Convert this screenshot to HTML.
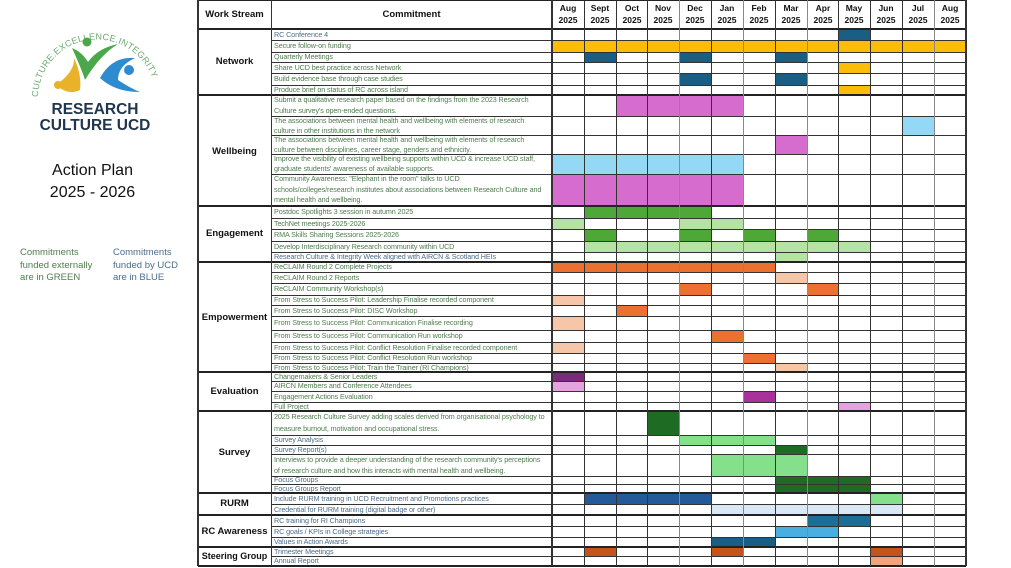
<!DOCTYPE html>
<html><head><meta charset="utf-8"><style>
*{margin:0;padding:0;box-sizing:border-box}
body{width:1011px;height:568px;background:#fff;position:relative;overflow:hidden;font-family:"Liberation Sans",sans-serif}
.r{position:absolute;left:274px;width:278px;font-size:7.2px;white-space:nowrap;overflow:hidden;color:#4f7d4f;letter-spacing:-0.1px}
.b{color:#4c6c8c}
.bar{position:absolute}
.h{position:absolute;left:271px;width:695px;height:1px;background:#333}
.g{position:absolute;left:198px;width:768px;height:2px;background:#222}
.v{position:absolute;top:0;height:566px;width:1px;background:#333}
.vg{background:#888}
.ws{position:absolute;left:198px;width:73px;text-align:center;font-weight:bold;font-size:9.5px;color:#111}
.m{position:absolute;top:2px;width:32px;text-align:center;font-weight:bold;font-size:8.5px;line-height:12px;color:#111}
</style></head><body>

<!-- left panel -->
<svg style="position:absolute;left:0;top:0" width="198" height="140">
<defs><path id="arc" d="M38,97 A58,58 0 1,1 156,100"/></defs>
<text font-family="Liberation Sans" font-size="9" fill="#6aaa70" letter-spacing="0.3"><textPath href="#arc">CULTURE.EXCELLENCE.INTEGRITY</textPath></text>
<path d="M60,82 Q75,70 74,58 Q82,75 80,90 Q70,95 60,88Z" fill="#e8b22a"/>
<circle cx="58" cy="85" r="4" fill="#e8b22a"/>
<path d="M72,48 Q82,70 85,80 Q100,55 118,44 Q98,48 88,62 Q82,52 72,48Z" fill="#4aa84a"/>
<circle cx="87" cy="42" r="4.5" fill="#4aa84a"/>
<path d="M100,78 Q112,56 135,58 Q118,66 118,80 Q130,88 140,92 Q115,92 100,78Z" fill="#2e8bd0"/>
<circle cx="129" cy="70" r="5" fill="#2e8bd0"/>
<text x="95" y="114" text-anchor="middle" font-family="Liberation Sans" font-weight="bold" font-size="15.5" fill="#20364f">RESEARCH</text>
<text x="95" y="130" text-anchor="middle" font-family="Liberation Sans" font-weight="bold" font-size="15.5" fill="#20364f">CULTURE UCD</text>
</svg>
<div style="position:absolute;left:0;width:185px;top:160px;text-align:center;font-size:16px;line-height:22px;color:#111">Action Plan<br>2025 - 2026</div>
<div style="position:absolute;left:20px;top:247px;font-size:9.5px;line-height:12.7px;color:#4f7d4f">Commitments<br>funded externally<br>are in GREEN</div>
<div style="position:absolute;left:113px;top:247px;font-size:9.5px;line-height:12.7px;color:#4c6c8c">Commitments<br>funded by UCD<br>are in BLUE</div>

<!-- header -->
<div class="ws" style="top:9px;font-size:9.5px">Work Stream</div>
<div style="position:absolute;left:271px;width:281px;top:9px;text-align:center;font-weight:bold;font-size:9.5px;color:#111">Commitment</div>
<div class="m" style="left:552px">Aug<br>2025</div>
<div class="m" style="left:584px">Sept<br>2025</div>
<div class="m" style="left:616px">Oct<br>2025</div>
<div class="m" style="left:647px">Nov<br>2025</div>
<div class="m" style="left:679px">Dec<br>2025</div>
<div class="m" style="left:711px">Jan<br>2025</div>
<div class="m" style="left:743px">Feb<br>2025</div>
<div class="m" style="left:775px">Mar<br>2025</div>
<div class="m" style="left:807px">Apr<br>2025</div>
<div class="m" style="left:838px">May<br>2025</div>
<div class="m" style="left:870px">Jun<br>2025</div>
<div class="m" style="left:902px">Jul<br>2025</div>
<div class="m" style="left:934px">Aug<br>2025</div>

<!-- workstreams -->
<div class="ws" style="top:56px">Network</div>
<div class="ws" style="top:146px">Wellbeing</div>
<div class="ws" style="top:228px">Engagement</div>
<div class="ws" style="top:312px">Empowerment</div>
<div class="ws" style="top:386px">Evaluation</div>
<div class="ws" style="top:447px">Survey</div>
<div class="ws" style="top:498px">RURM</div>
<div class="ws" style="top:526px">RC Awareness</div>
<div class="ws" style="top:551px;font-size:9px">Steering Group</div>

<!-- bars -->
<div class="bar" style="left:839px;width:31px;top:29px;height:11px;background:#1b5e83"></div>
<div class="bar" style="left:552px;width:414px;top:40px;height:12px;background:#fbbd08"></div>
<div class="bar" style="left:584px;width:32px;top:52px;height:10px;background:#1b5e83"></div>
<div class="bar" style="left:679px;width:32px;top:52px;height:10px;background:#1b5e83"></div>
<div class="bar" style="left:775px;width:32px;top:52px;height:10px;background:#1b5e83"></div>
<div class="bar" style="left:839px;width:31px;top:62px;height:11px;background:#fbbd08"></div>
<div class="bar" style="left:679px;width:32px;top:73px;height:12px;background:#1b5e83"></div>
<div class="bar" style="left:775px;width:32px;top:73px;height:12px;background:#1b5e83"></div>
<div class="bar" style="left:839px;width:31px;top:85px;height:10px;background:#fbbd08"></div>

<div class="bar" style="left:616px;width:127px;top:95px;height:21px;background:#d66ccd"></div>
<div class="bar" style="left:902px;width:32px;top:116px;height:19px;background:#93d8f4"></div>
<div class="bar" style="left:775px;width:32px;top:135px;height:19px;background:#d66ccd"></div>
<div class="bar" style="left:552px;width:191px;top:154px;height:20px;background:#93d8f4"></div>
<div class="bar" style="left:552px;width:191px;top:174px;height:32px;background:#d66ccd"></div>

<div class="bar" style="left:584px;width:127px;top:206px;height:12px;background:#4ea838"></div>
<div class="bar" style="left:552px;width:32px;top:218px;height:11px;background:#b5e3a3"></div>
<div class="bar" style="left:679px;width:64px;top:218px;height:11px;background:#b5e3a3"></div>
<div class="bar" style="left:584px;width:32px;top:229px;height:12px;background:#4ea838"></div>
<div class="bar" style="left:679px;width:32px;top:229px;height:12px;background:#4ea838"></div>
<div class="bar" style="left:743px;width:32px;top:229px;height:12px;background:#4ea838"></div>
<div class="bar" style="left:807px;width:32px;top:229px;height:12px;background:#4ea838"></div>
<div class="bar" style="left:584px;width:286px;top:241px;height:11px;background:#b5e3a3"></div>
<div class="bar" style="left:775px;width:32px;top:252px;height:10px;background:#b5e3a3"></div>

<div class="bar" style="left:552px;width:223px;top:262px;height:10px;background:#ec7030"></div>
<div class="bar" style="left:775px;width:32px;top:272px;height:11px;background:#f6c6a8"></div>
<div class="bar" style="left:679px;width:32px;top:283px;height:12px;background:#ec7030"></div>
<div class="bar" style="left:807px;width:32px;top:283px;height:12px;background:#ec7030"></div>
<div class="bar" style="left:552px;width:32px;top:295px;height:10px;background:#f6c6a8"></div>
<div class="bar" style="left:616px;width:32px;top:305px;height:11px;background:#ec7030"></div>
<div class="bar" style="left:552px;width:32px;top:316px;height:14px;background:#f6c6a8"></div>
<div class="bar" style="left:711px;width:32px;top:330px;height:12px;background:#ec7030"></div>
<div class="bar" style="left:552px;width:32px;top:342px;height:11px;background:#f6c6a8"></div>
<div class="bar" style="left:743px;width:32px;top:353px;height:10px;background:#ec7030"></div>
<div class="bar" style="left:775px;width:32px;top:363px;height:9px;background:#f6c6a8"></div>

<div class="bar" style="left:552px;width:32px;top:372px;height:9px;background:#7b2a7d"></div>
<div class="bar" style="left:552px;width:32px;top:381px;height:10px;background:#e4a3df"></div>
<div class="bar" style="left:743px;width:32px;top:391px;height:11px;background:#a8329a"></div>
<div class="bar" style="left:839px;width:31px;top:402px;height:9px;background:#e4a3df"></div>

<div class="bar" style="left:648px;width:31px;top:411px;height:24px;background:#1e6b23"></div>
<div class="bar" style="left:679px;width:96px;top:435px;height:10px;background:#84e08a"></div>
<div class="bar" style="left:775px;width:32px;top:445px;height:9px;background:#1e6b23"></div>
<div class="bar" style="left:711px;width:96px;top:454px;height:22px;background:#84e08a"></div>
<div class="bar" style="left:775px;width:95px;top:476px;height:17px;background:#1e6b23"></div>

<div class="bar" style="left:584px;width:127px;top:493px;height:11px;background:#245a9a"></div>
<div class="bar" style="left:870px;width:32px;top:493px;height:11px;background:#84e08a"></div>
<div class="bar" style="left:711px;width:191px;top:504px;height:11px;background:#dae8f6"></div>

<div class="bar" style="left:807px;width:63px;top:515px;height:11px;background:#1b6e98"></div>
<div class="bar" style="left:775px;width:64px;top:526px;height:11px;background:#49aee0"></div>
<div class="bar" style="left:711px;width:64px;top:537px;height:10px;background:#1a5e86"></div>

<div class="bar" style="left:584px;width:32px;top:547px;height:9px;background:#c5541a"></div>
<div class="bar" style="left:711px;width:32px;top:547px;height:9px;background:#c5541a"></div>
<div class="bar" style="left:870px;width:32px;top:547px;height:9px;background:#c5541a"></div>
<div class="bar" style="left:870px;width:32px;top:556px;height:10px;background:#f2a57c"></div>

<!-- text rows -->
<div class="r b" style="top:29px;line-height:11px">RC Conference 4</div>
<div class="r" style="top:40px;line-height:12px">Secure follow-on funding</div>
<div class="r" style="top:52px;line-height:10px">Quarterly Meetings</div>
<div class="r" style="top:62px;line-height:11px">Share UCD best practice across Network</div>
<div class="r" style="top:73px;line-height:12px">Build evidence base through case studies</div>
<div class="r" style="top:85px;line-height:10px">Produce brief on status of RC across island</div>
<div class="r" style="top:95px;line-height:10.5px">Submit a qualitative research paper based on the findings from the 2023 Research<br>Culture survey's open-ended questions.</div>
<div class="r" style="top:116px;line-height:9.5px">The associations between mental health and wellbeing with elements of research<br>culture in other institutions in the network</div>
<div class="r" style="top:135px;line-height:9.5px">The associations between mental health and wellbeing with elements of research<br>culture between disciplines, career stage, genders and ethnicity.</div>
<div class="r" style="top:154px;line-height:10px">Improve the visibility of existing wellbeing supports within UCD &amp; increase UCD staff,<br>graduate students' awareness of available supports.</div>
<div class="r" style="top:174px;line-height:10.7px">Community Awareness: "Elephant in the room" talks to UCD<br>schools/colleges/research institutes about associations between Research Culture and<br>mental health and wellbeing.</div>
<div class="r" style="top:206px;line-height:12px">Postdoc Spotlights 3 session in autumn 2025</div>
<div class="r" style="top:218px;line-height:11px">TechNet meetings 2025-2026</div>
<div class="r" style="top:229px;line-height:12px">RMA Skills Sharing Sessions 2025-2026</div>
<div class="r" style="top:241px;line-height:11px">Develop Interdisciplinary Research community within UCD</div>
<div class="r b" style="top:252px;line-height:10px">Research Culture &amp; Integrity Week aligned with AIRCN &amp; Scotland HEIs</div>
<div class="r" style="top:262px;line-height:10px">ReCLAIM Round 2 Complete Projects</div>
<div class="r" style="top:272px;line-height:11px">ReCLAIM Round 2 Reports</div>
<div class="r" style="top:283px;line-height:12px">ReCLAIM Community Workshop(s)</div>
<div class="r" style="top:295px;line-height:10px">From Stress to Success Pilot: Leadership Finalise recorded component</div>
<div class="r" style="top:305px;line-height:11px">From Stress to Success Pilot: DISC Workshop</div>
<div class="r" style="top:316px;line-height:14px">From Stress to Success Pilot: Communication Finalise recording</div>
<div class="r" style="top:330px;line-height:12px">From Stress to Success Pilot: Communication Run workshop</div>
<div class="r" style="top:342px;line-height:11px">From Stress to Success Pilot: Conflict Resolution Finalise recorded component</div>
<div class="r" style="top:353px;line-height:10px">From Stress to Success Pilot: Conflict Resolution Run workshop</div>
<div class="r" style="top:363px;line-height:9px">From Stress to Success Pilot: Train the Trainer (RI Champions)</div>
<div class="r" style="top:372px;line-height:9px">Changemakers &amp; Senior Leaders</div>
<div class="r" style="top:381px;line-height:10px">AIRCN Members and Conference Attendees</div>
<div class="r" style="top:391px;line-height:11px">Engagement Actions Evaluation</div>
<div class="r" style="top:402px;line-height:9px">Full Project</div>
<div class="r" style="top:411px;line-height:11.5px">2025 Research Culture Survey adding scales derived from organisational psychology to<br>measure burnout, motivation and occupational stress.</div>
<div class="r b" style="top:435px;line-height:10px">Survey Analysis</div>
<div class="r b" style="top:445px;line-height:9px">Survey Report(s)</div>
<div class="r" style="top:454px;line-height:11px">Interviews to provide a deeper understanding of the research community's perceptions<br>of research culture and how this interacts with mental health and wellbeing.</div>
<div class="r b" style="top:476px;line-height:8px">Focus Groups</div>
<div class="r b" style="top:484px;line-height:9px">Focus Groups Report</div>
<div class="r b" style="top:493px;line-height:11px">Include RURM training in UCD Recruitment and Promotions practices</div>
<div class="r b" style="top:504px;line-height:11px">Credential for RURM training (digital badge or other)</div>
<div class="r b" style="top:515px;line-height:11px">RC training for RI Champions</div>
<div class="r b" style="top:526px;line-height:11px">RC goals / KPIs in College strategies</div>
<div class="r b" style="top:537px;line-height:10px">Values in Action Awards</div>
<div class="r b" style="top:547px;line-height:9px">Trimester Meetings</div>
<div class="r b" style="top:556px;line-height:10px">Annual Report</div>

<!-- horizontal lines -->
<div class="g" style="top:0;height:1px"></div>
<div class="g" style="top:28px"></div>
<div class="h" style="top:40px"></div><div class="h" style="top:52px"></div><div class="h" style="top:62px"></div><div class="h" style="top:73px"></div><div class="h" style="top:85px"></div>
<div class="g" style="top:94px"></div>
<div class="h" style="top:116px"></div><div class="h" style="top:135px"></div><div class="h" style="top:154px"></div><div class="h" style="top:174px"></div>
<div class="g" style="top:205px"></div>
<div class="h" style="top:218px"></div><div class="h" style="top:229px"></div><div class="h" style="top:241px"></div><div class="h" style="top:252px"></div>
<div class="g" style="top:261px"></div>
<div class="h" style="top:272px"></div><div class="h" style="top:283px"></div><div class="h" style="top:295px"></div><div class="h" style="top:305px"></div><div class="h" style="top:316px"></div><div class="h" style="top:330px"></div><div class="h" style="top:342px"></div><div class="h" style="top:353px"></div><div class="h" style="top:363px"></div>
<div class="g" style="top:371px"></div>
<div class="h" style="top:381px"></div><div class="h" style="top:391px"></div><div class="h" style="top:402px"></div>
<div class="g" style="top:410px"></div>
<div class="h" style="top:435px"></div><div class="h" style="top:445px"></div><div class="h" style="top:454px"></div><div class="h" style="top:476px"></div><div class="h" style="top:484px"></div>
<div class="g" style="top:492px"></div>
<div class="h" style="top:504px"></div>
<div class="g" style="top:514px"></div>
<div class="h" style="top:526px"></div><div class="h" style="top:537px"></div>
<div class="g" style="top:546px"></div>
<div class="h" style="top:556px"></div>
<div class="g" style="top:565px"></div>

<!-- vertical lines -->
<div class="v" style="left:197px;width:2px"></div>
<div class="v" style="left:271px"></div>
<div class="v" style="left:551px;width:2px"></div>
<div class="v" style="left:584px"></div>
<div class="v" style="left:616px"></div>
<div class="v" style="left:647px"></div>
<div class="v vg" style="left:679px"></div>
<div class="v" style="left:711px"></div>
<div class="v vg" style="left:743px"></div>
<div class="v" style="left:775px"></div>
<div class="v vg" style="left:807px"></div>
<div class="v" style="left:838px"></div>
<div class="v" style="left:870px"></div>
<div class="v" style="left:902px"></div>
<div class="v vg" style="left:934px"></div>
<div class="v" style="left:965px;width:2px"></div>
</body></html>
